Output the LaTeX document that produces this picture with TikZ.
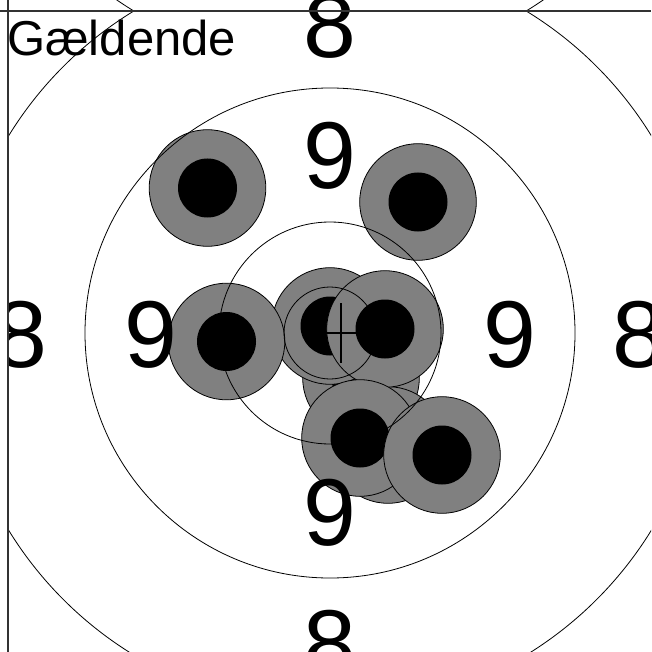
\documentclass[tikz,border=0pt]{standalone}
\usepackage{fontspec}
\setmainfont{Liberation Sans}
\definecolor{shotgray}{HTML}{808080}
\definecolor{framegray}{HTML}{333333}
\tikzset{
  ringline/.style={draw=black, line width=0.8pt},
  shotdisk/.style={fill=shotgray, draw=black, line width=0.8pt},
  shotcore/.style={fill=black},
  ringlabel/.style={font=\fontsize{95}{95}\selectfont, anchor=base, inner sep=0pt},
  titlelabel/.style={font=\fontsize{49}{49}\selectfont, anchor=base west, inner sep=0pt},
  crossline/.style={draw=black, line width=2.7pt},
  framerule/.style={draw=framegray, line width=2pt},
}
\newcommand\myshot[3]{%
  \path[shotdisk] (#2,#3) circle[radius=58.3];
  \path[shotcore] (#2,#3) circle[radius=29.5];
  \coordinate (#1) at (#2,#3);}
\newcommand\mytarget{%
  \myshot{sg}{361}{378}
  \myshot{sj}{388}{445}
  \myshot{sd}{330}{326}
  \myshot{se}{385}{329}
  \myshot{sh}{360}{438}
  \myshot{si}{442}{455}
  \myshot{sa}{207.5}{188}
  \myshot{sb}{418}{202}
  \myshot{sc}{226.5}{341.5}
  \coordinate (ctr) at (330,333);
  \draw[ringline] (ctr) circle[radius=46];
  \draw[ringline] (ctr) circle[radius=111];
  \draw[ringline] (ctr) circle[radius=245];
  \draw[ringline] (ctr) circle[radius=377];
  \coordinate (mpi) at (341,333);
  \draw[crossline] ([yshift=30pt]mpi) -- ([yshift=-30pt]mpi);
  \draw[crossline] ([xshift=-30pt]mpi) -- ([xshift=30pt]mpi);
  \node[ringlabel] (n9t) at (330,189) {9};
  \node[ringlabel] (n9b) at (330,545) {9};
  \node[ringlabel] (n9l) at (150.5,367) {9};
  \node[ringlabel] (n9r) at (509.5,367) {9};
  \node[ringlabel] (n8t) at (330,58) {8};
  \node[ringlabel] (n8b) at (330,676) {8};
  \node[ringlabel] (n8l) at (21,367) {8};
  \node[ringlabel] (n8r) at (639,367) {8};
}
\begin{document}
\begin{tikzpicture}[x=1pt,y=-1pt]
\useasboundingbox (0,0) rectangle (651,652);
\fill[white] (0,0) rectangle (651,652);
\begin{scope}
  \clip (8,11) rectangle (651,652);
  \mytarget
  \node[titlelabel] (title) at (7,56) {Gældende};
\end{scope}
\begin{scope}
  \clip (8,0) rectangle (651,11);
  \begin{scope}[shift={(0,22)},yscale=-1,transform shape]
    \mytarget
  \end{scope}
\end{scope}
\draw[framerule] (0,11) -- (651,11);
\draw[framerule] (8,0) -- (8,652);
\end{tikzpicture}
\end{document}
